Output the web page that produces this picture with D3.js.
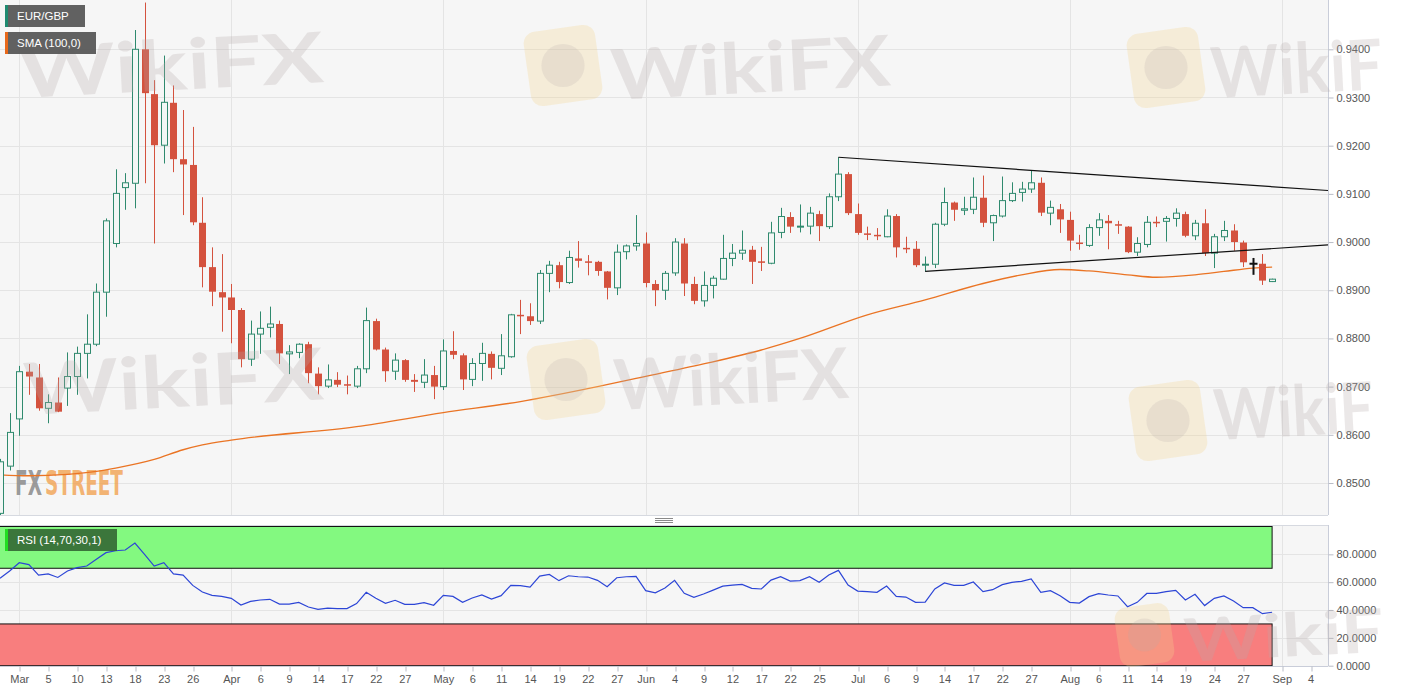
<!DOCTYPE html>
<html><head><meta charset="utf-8">
<script src="https://cdn.jsdelivr.net/npm/d3@7"></script>
<style>
html,body{margin:0;padding:0;background:#ffffff;}
svg{display:block;font-family:"Liberation Sans",Arial,sans-serif;}
</style></head><body>
<svg id="chart" width="1405" height="692"></svg>
<script>
// ---------- DATA ----------
const firstIndex = -2; // first candle sits two sessions before Mar 2
const opens = [
 .8437,.8535,.8633,.8731,.8719,.8655,.8667,.8697,.8721,.8769,
 .8788,.8896,.8997,.9113,.9122,.9400,.9307,.9201,.9289,.9172,
 .9160,.9040,.8948,.8896,.8885,.8859,.8757,.8809,.8823,.8830,
 .8768,.8771,.8788,.8727,.8701,.8714,.8705,.8701,.8737,.8836,
 .8777,.8732,.8755,.8714,.8709,.8724,.8700,.8774,.8765,.8715,
 .8748,.8768,.8738,.8762,.8849,.8846,.8836,.8935,.8952,.8916,
 .8966,.8960,.8959,.8939,.8905,.8980,.8992,.8997,.8913,.8900,
 .8936,.8997,.8913,.8878,.8910,.8923,.8966,.8977,.8984,.8960,
 .8956,.9020,.9052,.9031,.9033,.9058,.9032,.9094,.9141,.9058,
 .9018,.9015,.9011,.9054,.8988,.8986,.8952,.8954,.9037,.9082,
 .9066,.9068,.9092,.9040,.9054,.9086,.9103,.9110,.9123,.9060,
 .9068,.9046,.8999,.8993,.9030,.9044,.9037,.9032,.8979,.8995,
 .9042,.9043,.9049,.9058,.9013,.9039,.8977,.9011,.9024,.8999,
 .8955,.8955,.8918];
const highs = [
 .8550,.8645,.8743,.8747,.8747,.8684,.8719,.8771,.8783,.8850,
 .8914,.9049,.9151,.9143,.9440,.9497,.9336,.9387,.9325,.9274,
 .9239,.9093,.8989,.8975,.8913,.8863,.8837,.8856,.8866,.8837,
 .8786,.8790,.8793,.8740,.8746,.8730,.8723,.8743,.8864,.8841,
 .8781,.8769,.8757,.8726,.8757,.8743,.8798,.8815,.8769,.8759,
 .8791,.8773,.8809,.8851,.8880,.8873,.8942,.8961,.8959,.8982,
 .9002,.8973,.8961,.8940,.8995,.8995,.9056,.9020,.8921,.8940,
 .9008,.9008,.8928,.8939,.8930,.9015,.8996,.9024,.8992,.8990,
 .9042,.9071,.9062,.9078,.9073,.9065,.9101,.9176,.9145,.9080,
 .9032,.9029,.9068,.9058,.9011,.9002,.8970,.9040,.9113,.9084,
 .9094,.9134,.9138,.9057,.9136,.9124,.9125,.9148,.9134,.9086,
 .9079,.9063,.9015,.9037,.9060,.9056,.9044,.9033,.9010,.9054,
 .9053,.9054,.9070,.9063,.9046,.9068,.9017,.9044,.9037,.9003,
 .8967,.8975,.8924];
const lows = [
 .8420,.8526,.8598,.8683,.8650,.8624,.8647,.8660,.8683,.8717,
 .8784,.8845,.8989,.9067,.9070,.9122,.8997,.9163,.9145,.9056,
 .9035,.8906,.8867,.8814,.8790,.8740,.8743,.8768,.8802,.8747,
 .8726,.8759,.8707,.8684,.8697,.8699,.8684,.8697,.8728,.8775,
 .8710,.8714,.8710,.8689,.8697,.8674,.8693,.8757,.8693,.8701,
 .8712,.8715,.8724,.8760,.8809,.8828,.8830,.8896,.8904,.8913,
 .8947,.8931,.8930,.8881,.8890,.8964,.8982,.8906,.8867,.8880,
 .8930,.8888,.8871,.8866,.8883,.8922,.8950,.8963,.8913,.8940,
 .8954,.9008,.9019,.9020,.9016,.9002,.9027,.9085,.9056,.9015,
 .9004,.9004,.9010,.8968,.8977,.8948,.8939,.8946,.9033,.9044,
 .9056,.9058,.9031,.9002,.9051,.9083,.9084,.9102,.9054,.9035,
 .9019,.8982,.8984,.8990,.9013,.8985,.9017,.8977,.8971,.8989,
 .9031,.9001,.9032,.9010,.9004,.8971,.8946,.9002,.8982,.8948,
 .8932,.8911,.8917];
const closes = [
 .8544,.8605,.8731,.8721,.8655,.8667,.8648,.8721,.8769,.8788,
 .8896,.9044,.9101,.9123,.9400,.9309,.9201,.9290,.9172,.9161,
 .9041,.8948,.8897,.8885,.8859,.8757,.8809,.8821,.8830,.8769,
 .8772,.8788,.8728,.8701,.8714,.8704,.8703,.8737,.8837,.8777,
 .8732,.8755,.8714,.8710,.8724,.8700,.8774,.8766,.8715,.8748,
 .8769,.8739,.8764,.8849,.8846,.8836,.8935,.8952,.8917,.8968,
 .8961,.8959,.8940,.8905,.8979,.8992,.8997,.8915,.8900,.8935,
 .9000,.8914,.8878,.8910,.8925,.8966,.8977,.8983,.8959,.8957,
 .9019,.9053,.9032,.9033,.9060,.9033,.9094,.9141,.9060,.9019,
 .9015,.9012,.9054,.8989,.8986,.8952,.8954,.9037,.9082,.9067,
 .9069,.9093,.9040,.9055,.9086,.9101,.9110,.9123,.9061,.9072,
 .9047,.9003,.8997,.9030,.9046,.9039,.9035,.8979,.8997,.9041,
 .9039,.9049,.9060,.9013,.9039,.8977,.9011,.9024,.9000,.8958,
 .8955,.8920,.8923];
const rsiValues = [
 62.8,68.0,74.0,72.6,65.1,65.9,63.4,68.0,70.4,71.6,
 76.4,81.2,82.6,83.1,88.1,80.0,71.6,74.0,65.9,65.1,
 57.7,52.9,50.5,49.8,48.4,43.6,46.2,47.2,47.7,44.3,
 44.3,45.5,42.2,40.5,41.4,41.0,41.0,44.6,52.7,48.4,
 44.8,47.0,44.1,44.1,45.3,43.4,50.5,49.8,45.5,48.6,
 50.8,47.9,50.3,57.7,57.5,56.5,64.4,65.6,61.1,64.6,
 63.9,63.7,61.3,56.8,63.2,63.9,64.2,53.9,52.4,55.8,
 61.3,52.0,49.1,51.5,54.3,57.2,57.9,58.4,55.6,55.1,
 61.5,63.9,60.8,61.1,63.9,59.9,65.1,68.5,57.9,53.6,
 53.2,52.7,57.2,49.8,49.3,45.5,45.7,55.1,59.4,57.7,
 57.7,60.1,53.2,54.6,58.2,59.9,60.6,62.3,52.7,53.9,
 50.3,45.5,45.0,49.6,51.7,50.8,50.1,42.4,45.5,51.9,
 51.9,53.2,54.1,47.2,51.3,43.2,48.4,50.1,46.5,41.7,
 41.7,37.4,38.4];
// SMA(100) at selected sessions
const smaIdx  = [-2, 1, 5, 8, 10, 14, 17, 19, 22, 35, 44, 52, 60, 64, 71, 77, 81, 88, 94, 100, 104, 108, 111, 115, 118, 122, 125, 128, 130];
const smaVals = [.8517,.8515,.8518,.8524,.8531,.8549,.8569,.8579,.8589,.8617,.8646,.8669,.8700,.8717,.8747,.8776,.8800,.8849,.8880,.8914,.8932,.8943,.8940,.8932,.8927,.8932,.8939,.8946,.8948];
// triangle trend lines [session index, price]
const trendUpperIdx = [85, 135.8];
const trendUpperVal = [0.9176, 0.9107];
const trendLowerIdx = [94, 135.8];
const trendLowerVal = [0.8939, 0.8994];
// axis ticks
const tickIdx = [0,3,6,9,12,15,18,22,25,28,31,34,37,40,44,47,50,53,56,59,62,65,68,71,74,77,80,83,87,90,93,96,99,102,105,109,112,115,118,121,124,127,131,134];
const tickLabels = ["Mar","5","10","13","18","23","26","Apr","6","9","14","17","22","27","May","6","11","14","19","22","27","Jun","4","9","12","17","22","25","Jul","6","9","14","17","22","27","Aug","6","11","14","19","24","27","Sep","4"];
const monthIdx = [0,22,44,65,87,109,131];
const priceTicks = [0.85,0.86,0.87,0.88,0.89,0.90,0.91,0.92,0.93,0.94];
const rsiTicks = [0,20,40,60,80];
const rsiOverbought = 70, rsiOversold = 30;
const legendLabels = ["EUR/GBP","SMA (100,0)"];
const rsiLabel = "RSI (14,70,30,1)";

// ---------- LAYOUT ----------
const W = 1405, H = 692;
const plotRight = 1328;
const mainTop = 0, mainBottom = 515;
const rsiTop = 525, rsiBottom = 666;

const candles = opens.map((o,k)=>({i:firstIndex+k,o,h:highs[k],l:lows[k],c:closes[k]}));
const rsi = rsiValues.map((v,k)=>({i:firstIndex+k,v}));
const sma = smaIdx.map((i,k)=>({i,v:smaVals[k]}));

const x = d3.scaleLinear().domain([-2,135.8]).range([0,plotRight]);
const yP = d3.scaleLinear().domain([0.85,0.94]).range([483,49.3]);
const yR = d3.scaleLinear().domain([0,100]).range([665.7,526.5]);

const svg = d3.select("#chart");
const defs = svg.append("defs");
defs.append("clipPath").attr("id","clipMain").append("rect").attr("x",0).attr("y",mainTop).attr("width",plotRight).attr("height",mainBottom-mainTop);
defs.append("clipPath").attr("id","clipRsi").append("rect").attr("x",0).attr("y",rsiTop).attr("width",plotRight).attr("height",rsiBottom-rsiTop);

// panel backgrounds
svg.append("rect").attr("x",0).attr("y",mainTop).attr("width",plotRight).attr("height",mainBottom-mainTop).attr("fill","#f6f6f6");
svg.append("rect").attr("x",0).attr("y",rsiTop).attr("width",plotRight).attr("height",rsiBottom-rsiTop).attr("fill","#f6f6f6");

const gridColor = "#e4e4e4";
const main = svg.append("g").attr("clip-path","url(#clipMain)");
// grid
main.selectAll(".hg").data(priceTicks).join("line")
  .attr("x1",0).attr("x2",plotRight)
  .attr("y1",d=>Math.round(yP(d))+0.5).attr("y2",d=>Math.round(yP(d))+0.5)
  .attr("stroke",gridColor);
main.selectAll(".vg").data(monthIdx).join("line")
  .attr("x1",d=>Math.round(x(d))+0.5).attr("x2",d=>Math.round(x(d))+0.5)
  .attr("y1",mainTop).attr("y2",mainBottom).attr("stroke",gridColor);

// FXSTREET logo (each word squeezed to its width with a transform)
const logoFont = "'DejaVu Sans Condensed','DejaVu Sans',sans-serif";
function squeezedText(parent, str, x0, y0, targetW, size, fill, op){
  const t = parent.append("text").attr("x",0).attr("y",0).attr("font-family",logoFont).attr("font-weight","bold")
    .attr("font-size",size).attr("fill",fill).attr("fill-opacity",op).text(str);
  const w = t.node().getComputedTextLength() || targetW;
  t.attr("transform",`translate(${x0},${y0}) scale(${targetW/w},1)`);
  return t;
}
squeezedText(main,"FX",15,495,27,34,"#8e8e8e",0.9);
squeezedText(main,"STREET",45,495,78,34,"#f2a14f",0.8);

// SMA
main.append("path").datum(sma)
  .attr("d",d3.line().x(d=>x(d.i)).y(d=>yP(d.v)).curve(d3.curveMonotoneX))
  .attr("fill","none").attr("stroke","#ea7424").attr("stroke-width",1.3);

// candles
const upStroke = "#2f8a6e", upFill = "#f3f7f5", downCol = "#d4523e", flatCol = "#111";
const cg = main.append("g");
const cs = cg.selectAll("g").data(candles).join("g");
cs.append("line")
  .attr("x1",d=>Math.round(x(d.i))+0.5).attr("x2",d=>Math.round(x(d.i))+0.5)
  .attr("y1",d=>yP(d.h)).attr("y2",d=>yP(d.l))
  .attr("stroke",d=>d.c>d.o?upStroke:(d.c<d.o?downCol:flatCol))
  .attr("stroke-width",d=>d.c===d.o?2:1);
cs.each(function(d){
  const g = d3.select(this);
  const cx = Math.round(x(d.i));
  const top = yP(Math.max(d.o,d.c)), bot = yP(Math.min(d.o,d.c));
  if(d.c>d.o){
    g.append("rect").attr("x",cx-3+0.5).attr("y",top).attr("width",6).attr("height",Math.max(bot-top,1))
      .attr("fill",upFill).attr("stroke",upStroke).attr("stroke-width",1);
  } else if(d.c<d.o){
    g.append("rect").attr("x",cx-3).attr("y",top).attr("width",7).attr("height",Math.max(bot-top,1.5))
      .attr("fill",downCol);
  } else {
    g.append("line").attr("x1",cx-3.5).attr("x2",cx+4.5).attr("y1",top).attr("y2",top)
      .attr("stroke",flatCol).attr("stroke-width",2);
  }
});

// trend lines
main.append("line")
  .attr("x1",x(trendUpperIdx[0])).attr("y1",yP(trendUpperVal[0]))
  .attr("x2",x(trendUpperIdx[1])).attr("y2",yP(trendUpperVal[1]))
  .attr("stroke","#111").attr("stroke-width",1.2);
main.append("line")
  .attr("x1",x(trendLowerIdx[0])).attr("y1",yP(trendLowerVal[0]))
  .attr("x2",x(trendLowerIdx[1])).attr("y2",yP(trendLowerVal[1]))
  .attr("stroke","#111").attr("stroke-width",1.2);

// ---------- RSI panel ----------
const rp = svg.append("g").attr("clip-path","url(#clipRsi)");
rp.selectAll(".rh").data(rsiTicks.filter(d=>d>0)).join("line")
  .attr("x1",0).attr("x2",plotRight)
  .attr("y1",d=>Math.round(yR(d))+0.5).attr("y2",d=>Math.round(yR(d))+0.5).attr("stroke",gridColor);
rp.selectAll(".rv").data(monthIdx).join("line")
  .attr("x1",d=>Math.round(x(d))+0.5).attr("x2",d=>Math.round(x(d))+0.5)
  .attr("y1",rsiTop).attr("y2",rsiBottom).attr("stroke",gridColor);
const lastI = candles[candles.length-1].i;
rp.append("rect").attr("x",-2).attr("width",x(lastI)+2)
  .attr("y",yR(100)).attr("height",yR(rsiOverbought)-yR(100))
  .attr("fill","#7ff97c").attr("fill-opacity",0.97).attr("stroke","#111").attr("stroke-width",1);
rp.append("rect").attr("x",-2).attr("width",x(lastI)+2)
  .attr("y",yR(rsiOversold)).attr("height",yR(0)-yR(rsiOversold))
  .attr("fill","#f87a7a").attr("fill-opacity",0.97).attr("stroke","#111").attr("stroke-width",1);
rp.append("path").datum(rsi)
  .attr("d",d3.line().x(d=>x(d.i)).y(d=>yR(d.v)))
  .attr("fill","none").attr("stroke","#2c45d6").attr("stroke-width",1.2);

// ---------- frames & axes ----------
const frameCol = "#c9cdd9";
svg.append("line").attr("x1",0).attr("x2",plotRight).attr("y1",mainBottom+0.5).attr("y2",mainBottom+0.5).attr("stroke","#d6d9e0");
svg.append("line").attr("x1",0).attr("x2",plotRight).attr("y1",rsiTop+0.5).attr("y2",rsiTop+0.5).attr("stroke","#d6d9e0");
// drag handle
[518,520,522].forEach(yy=>svg.append("line").attr("x1",655).attr("x2",673).attr("y1",yy+0.5).attr("y2",yy+0.5).attr("stroke","#8a8a8a"));

function styleAxis(g){
  g.select(".domain").attr("stroke",frameCol);
  g.selectAll(".tick line").attr("stroke","#b9bcc6");
  g.selectAll(".tick text").attr("fill","#555").attr("font-size",11).attr("font-family","'Liberation Sans',Arial,sans-serif");
}
const axP = svg.append("g").attr("transform",`translate(${plotRight+0.5},0)`)
  .call(d3.axisRight(yP).tickValues(priceTicks).tickFormat(d3.format(".4f")).tickSize(5).tickPadding(3).tickSizeOuter(0));
axP.select(".domain").attr("d",`M0,${mainTop}V${mainBottom}`);
styleAxis(axP);
const axR = svg.append("g").attr("transform",`translate(${plotRight+0.5},0)`)
  .call(d3.axisRight(yR).tickValues(rsiTicks).tickFormat(d3.format(".4f")).tickSize(5).tickPadding(3).tickSizeOuter(0));
axR.select(".domain").attr("d",`M0,${rsiTop}V${rsiBottom}`);
styleAxis(axR);
const axX = svg.append("g").attr("transform",`translate(0,${rsiBottom+0.5})`)
  .call(d3.axisBottom(x).tickValues(tickIdx).tickFormat((d,k)=>tickLabels[k]).tickSize(5).tickPadding(4).tickSizeOuter(0));
axX.select(".domain").attr("d",`M0,0H${plotRight}`);
styleAxis(axX);
axX.selectAll(".tick line").attr("transform",d=>`translate(${Math.round(x(d))+0.5-x(d)},0)`);

// ---------- watermarks ----------
const wm = svg.append("g").attr("pointer-events","none");
const wmText = [
  {t:"WikiFX",x:20,y:98,w:305,s:70},{t:"WikiFX",x:612,y:100,w:280,s:70},{t:"WikiF",x:1212,y:98,w:172,s:70},
  {t:"WikiFX",x:25,y:415,w:300,s:72},{t:"WikiFX",x:615,y:410,w:235,s:70},{t:"WikiF",x:1215,y:440,w:160,s:70},
  {t:"WikiF",x:1185,y:662,w:200,s:60}
];
wm.selectAll("text").data(wmText).join("text")
  .attr("x",d=>d.x).attr("y",d=>d.y).text(d=>d.t)
  .attr("font-family","Lato,'Open Sans',sans-serif").attr("font-weight","bold")
  .attr("font-size",d=>d.s).attr("textLength",d=>d.w).attr("lengthAdjust","spacingAndGlyphs")
  .attr("fill","#b4a9a9").attr("fill-opacity",0.27)
  .attr("transform",d=>`rotate(-3,${d.x},${d.y})`);
const wmLogo = [{x:527,y:28,w:72,h:75},{x:1130,y:30,w:72,h:75},{x:530,y:342,w:72,h:75},{x:1132,y:383,w:72,h:75},{x:1117,y:605,w:55,h:60}];
wm.selectAll("rect").data(wmLogo).join("rect")
  .attr("x",d=>d.x).attr("y",d=>d.y).attr("width",d=>d.w).attr("height",d=>d.h).attr("rx",12)
  .attr("fill","#f3d58c").attr("fill-opacity",0.28)
  .attr("transform",d=>`rotate(-8,${d.x+d.w/2},${d.y+d.h/2})`);
wm.selectAll("circle").data(wmLogo).join("circle")
  .attr("cx",d=>d.x+d.w/2).attr("cy",d=>d.y+d.h/2).attr("r",d=>d.w*0.3)
  .attr("fill","#b4a9a9").attr("fill-opacity",0.2);

// ---------- legends ----------
const legendColors = ["#1f8a70","#e8681a"];
const legendW = [80,91];
legendLabels.forEach((lab,k)=>{
  const y0 = 5 + k*27;
  svg.append("rect").attr("x",5).attr("y",y0).attr("width",legendW[k]).attr("height",22).attr("fill","#595959").attr("fill-opacity",0.95);
  svg.append("rect").attr("x",5).attr("y",y0).attr("width",3).attr("height",22).attr("fill",legendColors[k]);
  svg.append("text").attr("x",17).attr("y",y0+15).attr("fill","#fff").attr("font-size",11.5).text(lab);
});
svg.append("rect").attr("x",5).attr("y",529).attr("width",112).attr("height",22).attr("fill","#2f5f2f").attr("fill-opacity",0.85);
svg.append("rect").attr("x",5).attr("y",529).attr("width",3).attr("height",22).attr("fill","#22dd22");
svg.append("text").attr("x",17).attr("y",544).attr("fill","#fff").attr("font-size",11.5).text(rsiLabel);
</script>
</body></html>
